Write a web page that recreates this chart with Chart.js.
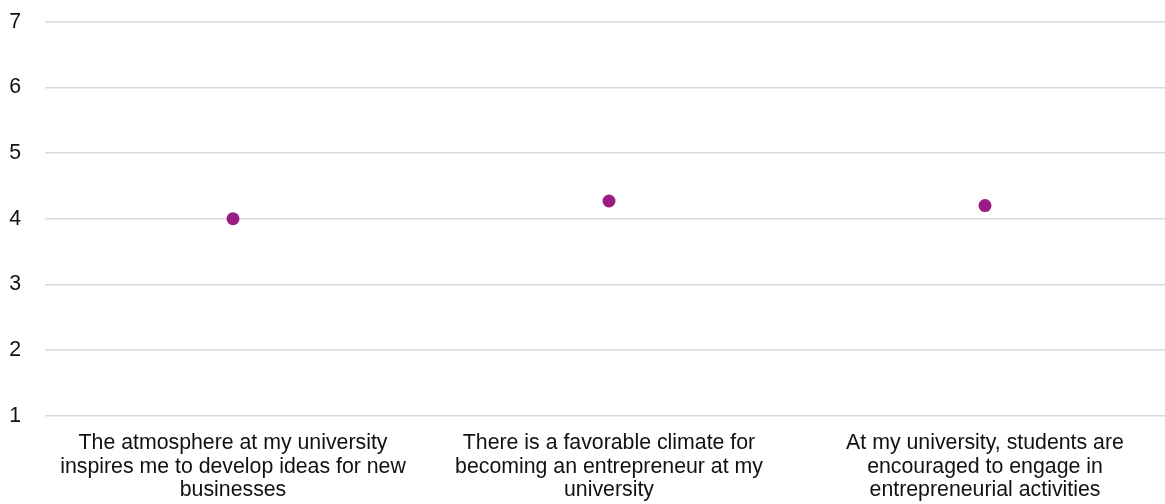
<!DOCTYPE html>
<html>
<head>
<meta charset="utf-8">
<script src="https://cdn.jsdelivr.net/npm/chart.js@4.4.1/dist/chart.umd.min.js"></script>
<style>
  html, body { margin: 0; padding: 0; background: #fff; overflow: hidden; }
  #wrap { width: 1165px; height: 504px; position: relative; overflow: hidden; }
  #c { position: absolute; left: 0; top: -15px; }
</style>
</head>
<body>
<div id="wrap"><canvas id="c" width="1173" height="533"></canvas></div>
<script>
const categories = [
  ["The atmosphere at my university", "inspires me to develop ideas for new", "businesses"],
  ["There is a favorable climate for", "becoming an entrepreneur at my", "university"],
  ["At my university, students are", "encouraged to engage in", "entrepreneurial activities"]
];
const meanValues = [4.0, 4.27, 4.2];
const yTicks = [1, 2, 3, 4, 5, 6, 7];

const FONT = 'Liberation Sans, Arial, Helvetica, sans-serif';

new Chart(document.getElementById('c'), {
  type: 'line',
  data: {
    labels: categories,
    datasets: [{
      data: meanValues,
      showLine: false,
      pointRadius: 6.5,
      pointHoverRadius: 6.5,
      pointBackgroundColor: '#9c1c86',
      pointBorderColor: '#9c1c86',
      pointBorderWidth: 0
    }]
  },
  options: {
    responsive: false,
    animation: false,
    devicePixelRatio: 1,
    layout: { autoPadding: false, padding: { left: 0, right: 0, top: 0, bottom: 0 } },
    plugins: { legend: { display: false }, tooltip: { enabled: false } },
    scales: {
      x: {
        offset: true,
        grid: { display: false, drawTicks: false },
        border: { display: false },
        ticks: {
          color: '#111',
          font: { family: FONT, size: 21.3, lineHeight: 1.1 },
          maxRotation: 0,
          autoSkip: false,
          padding: 16
        }
      },
      y: {
        min: 1,
        max: 7,
        afterBuildTicks: (axis) => { axis.ticks = yTicks.map(v => ({ value: v })); },
        afterFit: (axis) => { axis.width = 45; },
        grid: { color: '#d9d9d9', lineWidth: 1.6, drawTicks: false },
        border: { display: false },
        ticks: {
          color: '#111',
          font: { family: FONT, size: 21.3 },
          padding: 24
        }
      }
    }
  }
});
</script>
</body>
</html>
